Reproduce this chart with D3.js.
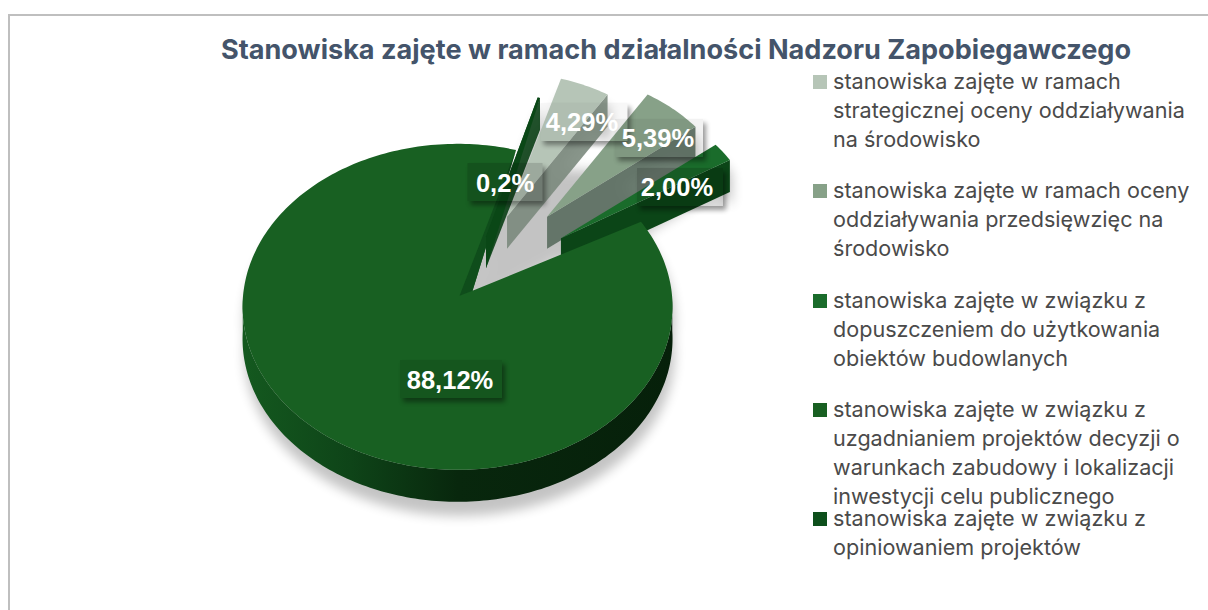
<!DOCTYPE html>
<html><head><meta charset="utf-8">
<script src="https://cdn.jsdelivr.net/npm/d3@7"></script>
<style>html,body{margin:0;background:#fff}svg{display:block}</style></head>
<body><svg id="c" width="1208" height="610"></svg>
<script>
const categories = [
  "stanowiska zajęte w ramach strategicznej oceny oddziaływania na środowisko",
  "stanowiska zajęte w ramach oceny oddziaływania przedsięwzięc na środowisko",
  "stanowiska zajęte w związku z dopuszczeniem do użytkowania obiektów budowlanych",
  "stanowiska zajęte w związku z uzgadnianiem projektów decyzji o warunkach zabudowy i lokalizacji inwestycji celu publicznego",
  "stanowiska zajęte w związku z opiniowaniem projektów"
];
const values = [4.29, 5.39, 2.00, 88.12, 0.2];
const valueLabels = ["4,29%", "5,39%", "2,00%", "88,12%", "0,2%"];
const legendLines = [
  ["stanowiska zajęte w ramach","strategicznej oceny oddziaływania","na środowisko"],
  ["stanowiska zajęte w ramach oceny","oddziaływania przedsięwzięc na","środowisko"],
  ["stanowiska zajęte w związku z","dopuszczeniem do użytkowania","obiektów budowlanych"],
  ["stanowiska zajęte w związku z","uzgadnianiem projektów decyzji o","warunkach zabudowy i lokalizacji","inwestycji celu publicznego"],
  ["stanowiska zajęte w związku z","opiniowaniem projektów"]
];
const title = "Stanowiska zajęte w ramach działalności Nadzoru Zapobiegawczego";

// style / layout, separate from the data
const topColors  = ["#b6c5b7","#87a188","#1a6c2b","#186022","#0d4f1b"];
const wallColors = ["#7b8a7d","#5a6d5f","#0b4517","#0a2d10","#0a3f15"];
const explode    = [100,122,116,14,72];
const explodeSquash = 0.88;
const radii      = [190,190,198,215,190];
const legendBase = [89,198,308,417,526];
const textPos    = [[582,122],[658,138],[677,187],[450,380],[505,183]];
const boxC       = [[584,122],[659,138],[680,187],[451,379],[505,182]];
const boxW       = [87,88,86,102,75];
const boxAlpha   = [0.03,0.05,0.14,0.1,0.14];
const boxH       = 38;
const cx = 466, cy = 297, squash = 0.758, depth = 32;
const font = "Inter, Roboto, sans-serif";

const svg = d3.select("#c");
const defs = svg.append("defs");
const blur = (id,s)=>defs.append("filter").attr("id",id)
  .attr("x","-30%").attr("y","-30%").attr("width","160%").attr("height","160%")
  .append("feGaussianBlur").attr("stdDeviation",s);
blur("soft",6); blur("lab",2.5);
const sideGrad = defs.append("linearGradient").attr("id","side").attr("gradientUnits","userSpaceOnUse")
  .attr("x1",243).attr("x2",673).attr("y1",0).attr("y2",0);
[[0,"#14591f"],[0.25,"#0e4418"],[0.5,"#08270d"],[1,"#06200a"]].forEach(s=>
  sideGrad.append("stop").attr("offset",s[0]).attr("stop-color",s[1]));

svg.append("rect").attr("x",9).attr("y",15).attr("width",1240).attr("height",640)
  .attr("fill","#fff").attr("stroke","#bfbfbf").attr("stroke-width",2);

svg.append("text").attr("x",676).attr("y",59).attr("text-anchor","middle")
  .attr("font-family",font).attr("font-weight",700).attr("font-size",27.1)
  .attr("fill","#44546a").text(title);

const pie = d3.pie().sort(null).value(d=>d)
  .startAngle(16.5*Math.PI/180).endAngle((360+16.5)*Math.PI/180);
const arcs = pie(values);
const py = d3.scaleLinear().domain([-1,1]).range([-squash,squash]);
const pt = (o,r,a)=>[o[0]+r*Math.sin(a), o[1]-py(1)*r*Math.cos(a)];
const line = d3.line();

function sliceGeom(d,i){
  const mid=(d.startAngle+d.endAngle)/2;
  const o=[cx+explode[i]*Math.sin(mid), cy-explodeSquash*explode[i]*Math.cos(mid)];
  const n=Math.max(2,Math.ceil((d.endAngle-d.startAngle)/0.02));
  const t=d3.scaleLinear().domain([0,n]).range([d.startAngle,d.endAngle]);
  const arc=d3.range(n+1).map(k=>pt(o,radii[i],t(k)));
  // the large slice's notch is pulled towards the gap, as in the 3-D projection
  const apex= i===3 ? [o[0]+15,o[1]-16] : o;
  return {o,arc,apex,t,n,mid};
}
const G = arcs.map(sliceGeom);
const drop=(p,dz)=>p.map(q=>[q[0],q[1]+dz]);
const topPath=g=>line([g.apex,...g.arc])+"Z";

// ground shadow
const shadow = svg.append("g").attr("filter","url(#soft)").attr("opacity",0.23).attr("transform","translate(2,14)");
G.forEach(g=>{
  shadow.append("path").attr("d",line([g.apex,...g.arc])+"Z").attr("fill","#000");
  shadow.append("path").attr("d",line([g.apex,...g.arc,...drop(g.arc,depth).reverse(),[g.apex[0],g.apex[1]+depth]])+"Z").attr("fill","#000");
});
// shadow filling the gaps between the pulled-out slices
const gapOrder=[4,0,1,2];
const gapPts=[G[3].apex];
gapOrder.forEach(i=>{
  const d=arcs[i];
  gapPts.push(pt(G[i].o,radii[i]*0.5,d.startAngle),pt(G[i].o,radii[i]*0.5,d.endAngle));
});
shadow.append("path").attr("d",line(gapPts)+"Z").attr("fill","#000");

// exploded slices, back to front
gapOrder.forEach(i=>{
  const g=G[i];
  const gg=svg.append("g");
  const A=g.apex, Ab=[A[0],A[1]+depth], end=g.arc[g.arc.length-1], Eb=[end[0],end[1]+depth];
  gg.append("path").attr("d",line([A,end,Eb,Ab])+"Z").attr("fill",wallColors[i]).attr("fill-opacity",i===2?1:0.9);
  gg.append("path").attr("d",topPath(g)).attr("fill",topColors[i]);
});

// main slice: rim first, then top
{
  const g=G[3];
  const vis=g.arc.map((p,k)=>k).filter(k=>Math.cos(g.t(k))<0.05);
  const a=vis.map(k=>g.arc[k]);
  svg.append("path").attr("d",line([...a,...drop(a,depth).reverse()])+"Z").attr("fill","url(#side)");
  svg.append("path").attr("d",topPath(g)).attr("fill",topColors[3]);
  svg.append("path").attr("d",line([[g.apex[0]-13,g.apex[1]+5],g.arc[g.n],g.apex])+"Z").attr("fill","#0f4d1b");
  // the thin slice's wall, in front of the big slice
  const h=G[4];
  svg.append("path").attr("d",line([h.apex,[h.apex[0],h.apex[1]+depth],h.arc[h.arc.length-1],h.arc[0]])+"Z").attr("fill","#0a4716");
}

// data labels: a see-through box whose shadow only falls outside it
const lab=svg.append("g");
valueLabels.forEach((t,i)=>{
  const [bx,by]=boxC[i], w=boxW[i], x0=bx-w/2, y0=by-boxH/2;
  const id="out"+i;
  defs.append("clipPath").attr("id",id).append("path").attr("clip-rule","evenodd")
    .attr("d",`M0 0H1208V610H0Z M${x0} ${y0}h${w}v${boxH}h${-w}Z`);
  lab.append("g").attr("clip-path",`url(#${id})`)
    .append("rect").attr("x",x0+3).attr("y",y0+4).attr("width",w).attr("height",boxH)
    .attr("fill","#000").attr("opacity",0.4).attr("filter","url(#lab)");
  lab.append("rect").attr("x",x0).attr("y",y0).attr("width",w).attr("height",boxH)
    .attr("fill","#000").attr("opacity",boxAlpha[i]);
});
valueLabels.forEach((t,i)=>{
  const [x,y]=textPos[i];
  lab.append("text").attr("x",x).attr("y",y+9).attr("text-anchor","middle")
    .attr("font-family","'Liberation Sans', Arial, sans-serif").attr("font-weight",700)
    .attr("font-size",25.5).attr("fill","#fff").text(t);
});

// legend
const lg=svg.append("g");
categories.forEach((c,i)=>{
  const item=lg.append("g").attr("aria-label",c);
  item.append("rect").attr("x",813).attr("y",legendBase[i]-14).attr("width",14).attr("height",14).attr("fill",topColors[i]);
  legendLines[i].forEach((l,k)=>item.append("text").attr("x",833).attr("y",legendBase[i]+k*29)
    .attr("font-family",font).attr("font-size",21.6).attr("fill","#4a4a4a").text(l));
});
</script></body></html>
